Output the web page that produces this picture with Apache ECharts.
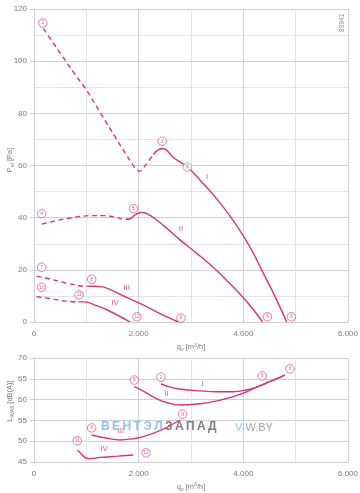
<!DOCTYPE html>
<html>
<head>
<meta charset="utf-8">
<script src="https://cdn.jsdelivr.net/npm/echarts@6/dist/echarts.min.js"></script>
<style>html,body{margin:0;padding:0;background:#fff}#c{width:360px;height:493px}</style>
</head>
<body>
<div id="c"></div>
<script>
// ---- data ----
const xTicks = [0, 2000, 4000, 6000];
const topYTicks = [0, 20, 40, 60, 80, 100, 120];
const botYTicks = [45, 50, 55, 60, 65, 70];

// Pressure curves [q_v, P_sf]
const pI_dashed = [[180,112.5],[400,106],[600,100.2],[800,94.5],[1000,89],[1260,80.5],[1550,71],[1750,64.5],[1880,60.5],[1960,58.4],[2020,57.8],[2080,58.8],[2180,61.5],[2280,64.2]];
const pI_solid = [[2280,64.2],[2360,65.8],[2440,66.5],[2520,66.1],[2660,63.2],[2800,61.2],[2930,59.5],[3200,53.8],[3500,47],[3750,40.5],[4000,33],[4200,26],[4350,20],[4600,10],[4830,0]];
const pII_dashed = [[150,37.5],[500,39.2],[800,40.2],[1100,40.8],[1350,40.8],[1550,40.2],[1750,39.4],[1850,39.6]];
const pII_solid = [[1850,39.6],[1940,41.2],[2050,42],[2170,41.5],[2350,39],[2550,35.7],[2790,31.5],[3100,26.5],[3425,21],[3700,15.6],[4000,9.3],[4200,4.5],[4370,0]];
const pIII_dashed = [[50,17.6],[300,16.5],[600,15],[880,13.9],[1100,13.7]];
const pIII_solid = [[1100,13.7],[1250,13.6],[1350,13.3],[1500,12],[1750,9.6],[2025,7.1],[2400,3.3],[2757,0]];
const pIV_dashed = [[50,9.7],[300,9],[600,8],[850,7.7]];
const pIV_solid = [[850,7.7],[950,7.7],[1030,7.5],[1150,6.6],[1400,4.6],[1834,0]];

// Sound curves [q_v, L_WA5]
const sI = [[2426,63.75],[2600,63],[2800,62.5],[3170,62.1],[3500,61.9],[3807,61.9],[4050,62.3],[4250,63],[4500,64.3],[4794,65.9]];
const sII = [[1916,63.1],[2080,62.1],[2216,61.1],[2380,60],[2534,59.3],[2789,58.7],[3170,59],[3500,59.7],[3807,60.7],[4050,61.8],[4253,63],[4500,64.3],[4794,65.9]];
const sIII = [[1101,51.5],[1400,50.7],[1643,50.3],[1900,50.6],[2088,51.1],[2450,52.8],[2789,55.1]];
const sIV = [[828,47.9],[900,47],[960,46.2],[1038,45.8],[1150,45.9],[1261,46.1],[1600,46.4],[1897,46.7]];

// Numbered circle markers [x, y, number]
const topMarkers = [[170,114.6,'1'],[2451,69.3,'2'],[4920,2,'3'],[147,41.5,'4'],[1900,43.5,'5'],[4460,2,'6'],[147,21,'7'],[1102,16.4,'8'],[2808,1.5,'9'],[147,13.3,'10'],[860,10.4,'11'],[1967,2,'12']];
const topGreyMarker = [[2930,59.4,'8']];
const botMarkers = [[2426,65.4,'2'],[4361,65.7,'6'],[4890,67.4,'3'],[1916,64.7,'5'],[2840,56.5,'9'],[1101,53.2,'8'],[828,50.1,'11'],[2140,47.2,'12']];

// Curve names [x, y, text]
const topNames = [[3310,55.8,'I'],[2808,35.6,'II'],[1770,13.1,'III'],[1547,7.4,'IV']];
const botNames = [[3215,63.7,'I'],[2534,61.3,'II'],[1660,52.5,'III'],[1337,48.1,'IV']];

// ---- styling ----
const PINK = '#d8337f';
const AX = '#7a7a7a';
const MAJ = '#cfcfcf';
const MIN = '#e3e3e3';
const FONT = 'Liberation Sans, Arial, sans-serif';

function xFmt(v){ return v === 0 ? '0' : (v/1000) + '.000'; }

function line(data, dashed, xi){
  return {type:'line', xAxisIndex:xi, yAxisIndex:xi, data:data, smooth:0.4, symbol:'none',
    lineStyle:{color:PINK, width:1.4, type: dashed ? [5,3.5] : 'solid'}, z:3, silent:true};
}
function markers(data, xi, col){
  return {type:'scatter', xAxisIndex:xi, yAxisIndex:xi, data:data, symbol:'circle', symbolSize:8.5,
    itemStyle:{color:'#fff', borderColor:col, borderWidth:0.8}, z:5, silent:true,
    label:{show:true, position:'inside', formatter:p=>p.value[2], fontSize:5, color:col, fontFamily:FONT}};
}
function names(data, xi){
  return {type:'scatter', xAxisIndex:xi, yAxisIndex:xi, data:data, symbolSize:0, z:6, silent:true,
    label:{show:true, position:'inside', formatter:p=>p.value[2], fontSize:8, color:PINK, fontFamily:FONT}};
}

const subRich = {
  a:{fontSize:7.5, fill:AX, color:AX, fontFamily:FONT},
  s:{fontSize:5.5, fill:AX, color:AX, fontFamily:FONT, padding:[4,0,0,0]},
  u:{fontSize:5, fill:AX, color:AX, fontFamily:FONT, padding:[0,0,4,0]}
};

const xAxisBase = {
  type:'value', min:0, max:6000, interval:2000,
  axisLine:{show:true, lineStyle:{color:MAJ}}, axisTick:{show:false},
  axisLabel:{color:AX, fontSize:8, fontFamily:FONT, margin:8, formatter:xFmt},
  splitLine:{show:true, lineStyle:{color:MAJ, width:1}},
  minorTick:{show:false, splitNumber:2},
  minorSplitLine:{show:true, lineStyle:{color:MIN, width:1}},
  nameLocation:'middle', nameGap:20,
  name:'{a|q}{s|v}{a| [m}{u|3}{a|/h]}',
  nameTextStyle:{rich:subRich}
};

const option = {
  animation:false,
  backgroundColor:'#fff',
  grid:[
    {left:34, right:12, top:9, height:313, containLabel:false, outerBoundsMode:'none'},
    {left:34, right:12, top:358, height:104, containLabel:false, outerBoundsMode:'none'}
  ],
  xAxis:[
    Object.assign({}, xAxisBase, {gridIndex:0}),
    Object.assign({}, xAxisBase, {gridIndex:1})
  ],
  yAxis:[
    {gridIndex:0, type:'value', min:0, max:120, interval:20,
     axisLine:{show:true, lineStyle:{color:MAJ}},
     axisTick:{show:true, length:4, lineStyle:{color:MAJ}},
     axisLabel:{color:AX, fontSize:8, fontFamily:FONT, margin:7},
     splitLine:{show:true, lineStyle:{color:MAJ}},
     minorTick:{show:false, splitNumber:2},
     minorSplitLine:{show:true, lineStyle:{color:MIN}}
    },
    {gridIndex:1, type:'value', min:45, max:70, interval:5,
     axisLine:{show:true, lineStyle:{color:MAJ}},
     axisTick:{show:true, length:4, lineStyle:{color:MAJ}},
     axisLabel:{color:AX, fontSize:8, fontFamily:FONT, margin:7},
     splitLine:{show:true, lineStyle:{color:MAJ}}
    }
  ],
  graphic:[
    {type:'text', x:10, y:160, rotation:Math.PI/2, style:{
      text:'{a|P}{s|sf}{a| [Pa]}', rich:subRich, align:'center', verticalAlign:'middle'}},
    {type:'text', x:10, y:401, rotation:Math.PI/2, style:{
      text:'{a|L}{s|WA5}{a| [dB(A)]}', rich:subRich, align:'center', verticalAlign:'middle'}},
    {type:'text', left:339, top:14, rotation:Math.PI/2, style:{text:'83941', fill:'#888', font:'6.5px Liberation Sans'}},
    {type:'text', left:101, top:421, z:10, style:{
      rich:{
        b:{fontSize:12, fontWeight:'bold', fill:'#8cc6ee', fontFamily:FONT},
        g:{fontSize:12, fontWeight:'bold', fill:'#7d7d7d', fontFamily:FONT}
      },
      text:'{b|В\u2009Е\u2009Н\u2009Т\u2009Э\u2009Л\u2009}{g|З\u2009А\u2009П\u2009А\u2009Д}'
    }},
    {type:'text', left:235, top:422, z:10, style:{
      rich:{
        b:{fontSize:11, fill:'#8cc6ee', fontFamily:FONT},
        g:{fontSize:11, fill:'#a5a5a5', fontFamily:FONT}
      },
      text:'{b|V-}{g|W.BY}'
    }}
  ],
  series:[
    line(pI_dashed,true,0), line(pI_solid,false,0),
    line(pII_dashed,true,0), line(pII_solid,false,0),
    line(pIII_dashed,true,0), line(pIII_solid,false,0),
    line(pIV_dashed,true,0), line(pIV_solid,false,0),
    line(sI,false,1), line(sII,false,1), line(sIII,false,1), line(sIV,false,1),
    markers(topMarkers,0,PINK), markers(topGreyMarker,0,'#888'), markers(botMarkers,1,PINK),
    names(topNames,0), names(botNames,1)
  ]
};

const chart = echarts.init(document.getElementById('c'), null, {renderer:'canvas'});
chart.setOption(option);
</script>
</body>
</html>
